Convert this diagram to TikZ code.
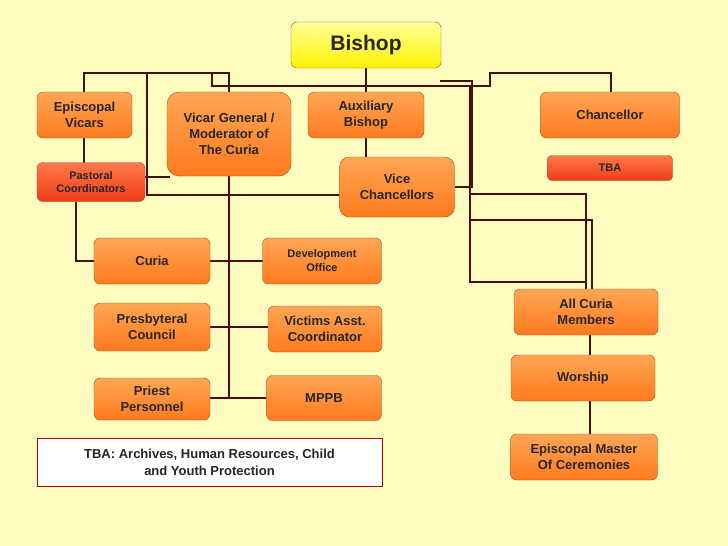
\documentclass[tikz,border=0pt]{standalone}
\usepackage{fontspec}
\setmainfont{Liberation Sans}
\definecolor{otop}{HTML}{FFA654}
\definecolor{obot}{HTML}{FF7A1E}
\definecolor{rtop}{HTML}{FF7A4A}
\definecolor{rbot}{HTML}{F03A1A}
\definecolor{lnc}{HTML}{4A0E0A}
\begin{document}
\begin{tikzpicture}[x=1pt,y=-1pt,
  box/.style={draw=brown!70!black,rounded corners=6pt,top color=otop,bottom color=obot,
    font=\bfseries\fontsize{13}{16}\selectfont,align=center,inner sep=0pt,text=black!85},
  rbox/.style={box,top color=rtop,bottom color=rbot,font=\bfseries\fontsize{11}{13}\selectfont},
  ln/.style={draw=lnc,line width=1.3pt}]
\fill[yellow!25] (0,0) rectangle (728,546);
\useasboundingbox (0,0) rectangle (728,546);
% connectors first
\coordinate (a1) at (84,73); \coordinate (a2) at (229,73);
\draw[ln] (84,92) -- (a1) -- (a2) -- (229,92);
\draw[ln] (147,73) -- (147,195) -- (340,195);
\draw[ln] (212,73) -- (212,86) -- (490,86) -- (490,73) -- (611,73) -- (611,92);
\draw[ln] (366,68) -- (366,157);
\draw[ln] (440,81) -- (472,81) -- (472,187) -- (455,187);
\draw[ln] (470,86) -- (470,282) -- (586,282) -- (586,289);
\draw[ln] (470,194) -- (586,194) -- (586,289);
\draw[ln] (470,220) -- (592,220) -- (592,289);
\draw[ln] (84,138) -- (84,163);
\draw[ln] (145,177) -- (170,177);
\draw[ln] (76,202) -- (76,261) -- (94,261);
\draw[ln] (229,176) -- (229,398) -- (267,398);
\draw[ln] (210,261) -- (263,261);
\draw[ln] (210,327) -- (268,327);
\draw[ln] (210,398) -- (229,398);
\draw[ln,line width=2pt] (590,335) -- (590,434);
% nodes
\node[box,minimum width=150pt,minimum height=46pt,top color=yellow!40!white,bottom color=yellow!90!orange,font=\bfseries\fontsize{21}{24}\selectfont] (bishop) at (366,45) {Bishop};
\node[box,minimum width=95pt,minimum height=46pt] (ev) at (84.5,115) {Episcopal\\Vicars};
\node[box,minimum width=124pt,minimum height=84pt,rounded corners=12pt] (vg) at (229,134) {Vicar General /\\Moderator of\\The Curia};
\node[box,minimum width=116pt,minimum height=46pt] (ab) at (366,115) {Auxiliary\\Bishop};
\node[box,minimum width=139pt,minimum height=46pt] (ch) at (610,115) {Chancellor};
\node[rbox,minimum width=108pt,minimum height=39pt] (pc) at (91,182) {Pastoral\\Coordinators};
\node[box,minimum width=115pt,minimum height=60pt,rounded corners=10pt] (vc) at (397,187) {Vice\\Chancellors};
\node[rbox,minimum width=125pt,minimum height=25pt,rounded corners=4pt] (tba) at (610,168) {TBA};
\node[box,minimum width=116pt,minimum height=46pt] (cu) at (152,261) {Curia};
\node[box,minimum width=119pt,minimum height=46pt,font=\bfseries\fontsize{11}{14}\selectfont] (do) at (322,261) {Development\\Office};
\node[box,minimum width=116pt,minimum height=48pt] (pr) at (152,327) {Presbyteral\\Council};
\node[box,minimum width=114pt,minimum height=46pt] (va) at (325,329) {Victims Asst.\\Coordinator};
\node[box,minimum width=116pt,minimum height=42pt] (pp) at (152,399) {Priest\\Personnel};
\node[box,minimum width=115pt,minimum height=45pt] (mp) at (324,398) {MPPB};
\node[box,minimum width=144pt,minimum height=46pt] (ac) at (586,312) {All Curia\\Members};
\node[box,minimum width=144pt,minimum height=46pt] (wo) at (583,378) {Worship};
\node[box,minimum width=147pt,minimum height=46pt] (em) at (584,457) {Episcopal Master\\Of Ceremonies};
\node[draw=red!70!black,line width=1pt,fill=white,minimum width=345pt,minimum height=48pt,align=center,
  font=\bfseries\fontsize{13}{17}\selectfont,text=black!85] (note) at (209.5,462) {TBA: Archives, Human Resources, Child\\and Youth Protection};
\end{tikzpicture}
\end{document}
